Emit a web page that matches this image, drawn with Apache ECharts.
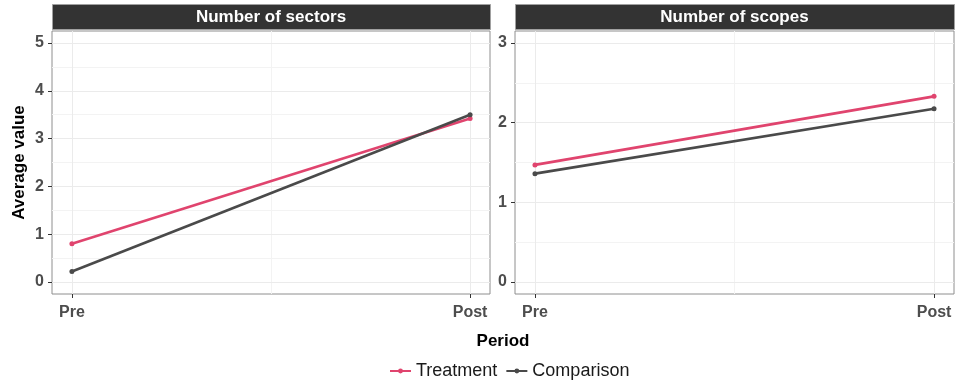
<!DOCTYPE html>
<html>
<head>
<meta charset="utf-8">
<script src="https://cdn.jsdelivr.net/npm/echarts@6/dist/echarts.min.js"></script>
<style>
  html, body { margin: 0; padding: 0; background: #fff; }
  #chart { width: 959px; height: 385px; }
</style>
</head>
<body>
<div id="chart"></div>
<script>
// Periods on the x axis (position 0 = Pre, 1 = Post)
const periods = ['Pre', 'Post'];
const panelTitles = ['Number of sectors', 'Number of scopes'];
const groupNames = ['Treatment', 'Comparison'];

// Average values per panel and group
const sectorsTreatment = [0.8, 3.42];
const sectorsComparison = [0.22, 3.5];
const scopesTreatment = [1.47, 2.33];
const scopesComparison = [1.36, 2.175];

// Tick labels and grid breaks
const sectorsTicks = [0, 1, 2, 3, 4, 5];
const sectorsMinor = [0.5, 1.5, 2.5, 3.5, 4.5];
const scopesTicks = [0, 1, 2, 3];
const scopesMinor = [0.5, 1.5, 2.5];
const periodTicks = [0, 1];
const periodMinor = [0.5];

const FONT = '"Liberation Sans", Arial, Helvetica, sans-serif';
const COLORS = { Treatment: '#E0446E', Comparison: '#4A4A4A' };
const MAJOR = '#EBEBEB';
const MINOR = '#F3F3F3';

const panels = [
  { left: 52, width: 438, yMin: -0.25, yMax: 5.25, ticks: sectorsTicks, minor: sectorsMinor,
    series: [sectorsTreatment, sectorsComparison] },
  { left: 515, width: 439, yMin: -0.15, yMax: 3.15, ticks: scopesTicks, minor: scopesMinor,
    series: [scopesTreatment, scopesComparison] }
];
const TOP = 31, HEIGHT = 263;

const grids = [], xAxes = [], yAxes = [], series = [], graphics = [];

panels.forEach((p, i) => {
  grids.push({ left: p.left, top: TOP, width: p.width, height: HEIGHT, show: true,
    backgroundColor: '#fff', borderColor: '#8E8E8E', borderWidth: 1, containLabel: false });

  xAxes.push({
    type: 'value', gridIndex: i, min: -0.05, max: 1.05,
    axisLine: { show: false, onZero: false },
    splitLine: { show: false },
    axisTick: { show: true, customValues: periodTicks, length: 4, lineStyle: { color: '#333', width: 1 } },
    axisLabel: { show: true, customValues: periodTicks, margin: 11,
      formatter: v => periods[Math.round(v)] || '',
      fontFamily: FONT, fontWeight: 'bold', fontSize: 16, color: '#4D4D4D' }
  });

  yAxes.push({
    type: 'value', gridIndex: i, min: p.yMin, max: p.yMax,
    axisLine: { show: false, onZero: false },
    splitLine: { show: false },
    axisTick: { show: true, customValues: p.ticks, length: 4, lineStyle: { color: '#333', width: 1 } },
    axisLabel: { show: true, customValues: p.ticks, margin: 8,
      formatter: v => String(v),
      fontFamily: FONT, fontWeight: 'bold', fontSize: 16, color: '#4D4D4D' },
    name: i === 0 ? 'Average value' : '',
    nameLocation: 'middle', nameGap: 24,
    nameTextStyle: { fontFamily: FONT, fontWeight: 'bold', fontSize: 17, color: '#000' }
  });

  // panel grid lines, drawn through the axis scales
  const solid = (color) => ({ color: color, width: 1, type: 'solid' });
  const lines = [];
  p.minor.forEach(v => lines.push({ yAxis: v, lineStyle: solid(MINOR) }));
  periodMinor.forEach(v => lines.push({ xAxis: v, lineStyle: solid(MINOR) }));
  p.ticks.forEach(v => lines.push({ yAxis: v, lineStyle: solid(MAJOR) }));
  periodTicks.forEach(v => lines.push({ xAxis: v, lineStyle: solid(MAJOR) }));
  series.push({
    type: 'line', xAxisIndex: i, yAxisIndex: i, data: [], z: 1, silent: true,
    markLine: { symbol: ['none', 'none'], silent: true, animation: false, z: 1,
      lineStyle: { type: 'solid' },
      label: { show: false }, emphasis: { disabled: true }, data: lines }
  });

  groupNames.forEach((g, k) => {
    series.push({
      name: g, type: 'line', xAxisIndex: i, yAxisIndex: i, z: 3,
      data: p.series[k].map((v, j) => [j, v]),
      symbol: 'circle', symbolSize: 5, showSymbol: true,
      itemStyle: { color: COLORS[g] },
      lineStyle: { color: COLORS[g], width: 2.6 },
      emphasis: { disabled: true },
      animation: false
    });
  });

  // facet strip
  graphics.push({
    type: 'rect', left: p.left, top: 4, z: 10,
    shape: { width: p.width, height: 25 },
    style: { fill: '#333333', stroke: '#A0A0A0', lineWidth: 1 }
  });
  graphics.push({
    type: 'text', z: 11,
    x: p.left + p.width / 2, y: 17,
    style: { text: panelTitles[i], fill: '#fff', font: 'bold 17px ' + FONT,
      align: 'center', verticalAlign: 'middle' }
  });
});

graphics.push({
  type: 'text', x: 503, y: 341, z: 11,
  style: { text: 'Period', fill: '#000', font: 'bold 17px ' + FONT,
    align: 'center', verticalAlign: 'middle' }
});

const chart = echarts.init(document.getElementById('chart'), null, { renderer: 'canvas' });
chart.setOption({
  backgroundColor: '#fff',
  animation: false,
  grid: grids,
  xAxis: xAxes,
  yAxis: yAxes,
  series: series,
  graphic: graphics,
  legend: {
    data: groupNames, top: 357, left: 384,
    itemWidth: 21, itemHeight: 6, itemGap: 8,
    textStyle: { fontFamily: FONT, fontSize: 18, color: '#1a1a1a' }
  }
});
</script>
</body>
</html>
